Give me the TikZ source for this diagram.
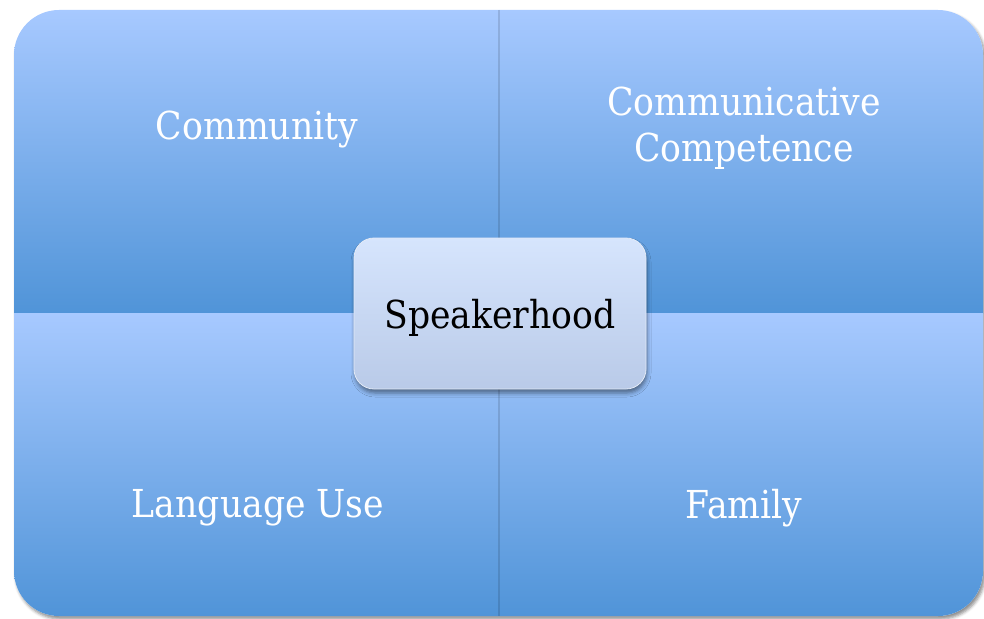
\documentclass[tikz,border=0pt]{standalone}
\usepackage{fontspec}
\setmainfont{DejaVu Serif Condensed}
\usetikzlibrary{shadows.blur}

\definecolor{quadtop}{RGB}{167,201,255}
\definecolor{quadbot}{RGB}{80,148,216}
\definecolor{hubtop}{RGB}{214,229,253}
\definecolor{hubbot}{RGB}{185,202,232}

\tikzset{
  quad/.style={top color=quadtop, bottom color=quadbot},
  quadtext/.style={text=white, align=center, font=\fontsize{38.5}{46}\selectfont},
  hub/.style={draw=white!60!hubbot, line width=0.8pt, rounded corners=20pt,
    top color=hubtop, bottom color=hubbot,
    minimum width=292pt, minimum height=151pt, text depth=0pt,
    font=\fontsize{38.5}{46}\selectfont,
    blur shadow={shadow xshift=1pt, shadow yshift=-4pt, shadow blur radius=4pt, shadow opacity=45}}
}

\begin{document}
\begin{tikzpicture}[x=1pt,y=-1pt]
        \useasboundingbox (0,0) rectangle (984,618);
        % outer block with its shadow
        \fill[white, rounded corners=45pt,
          blur shadow={shadow xshift=2pt, shadow yshift=-3pt, shadow blur radius=3pt, shadow opacity=45}]
          (14,10) rectangle (983,616);
        \begin{scope}
          \clip[rounded corners=45pt] (14,10) rectangle (983,616);
          \shade[quad] (14,10) rectangle (499,313);
          \shade[quad] (499,10) rectangle (983,313);
          \shade[quad] (14,313) rectangle (499,616);
          \shade[quad] (499,313) rectangle (983,616);
          \draw[black, opacity=.12, line width=1.5pt] (499,10) -- (499,616);
        \end{scope}
        \node[quadtext] (LT) at (257,129) {Community};
        \node[quadtext] (RT) at (744,128) {Communicative\\Competence};
        \node[quadtext] (LB) at (258,508) {Language Use};
        \node[quadtext] (RB) at (744,508) {Family};
        \node[hub] (C) at (500,313.5) {Speakerhood};
\end{tikzpicture}
\end{document}
